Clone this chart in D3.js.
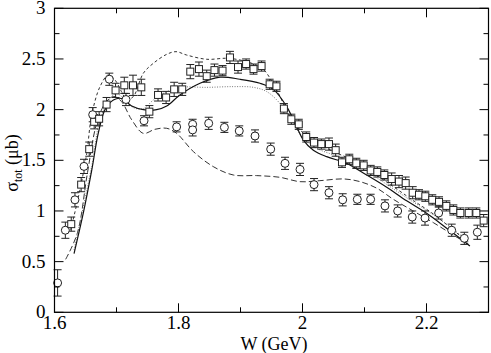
<!DOCTYPE html>
<html>
<head>
<meta charset="utf-8">
<script src="https://cdn.jsdelivr.net/npm/d3@7"></script>
<style>
  body { margin: 0; background: white; }
</style>
</head>
<body>
<div id="vis"></div>
<script>
var width = 491;
var height = 353;
var mLeft = 54.5, mRight = 488.5, mTop = 8.3, mBottom = 312.3;

// open circles: W (GeV), sigma (mub), error
var circW = [1.605, 1.6175, 1.633, 1.6476, 1.6616, 1.6884, 1.7153, 1.7444, 1.797, 1.8228, 1.8228, 1.8487, 1.874, 1.898, 1.9234, 1.9487, 1.9718, 1.996, 2.0186, 2.0427, 2.0648, 2.0884, 2.1099, 2.133, 2.1535, 2.177, 2.1976, 2.2196, 2.2406, 2.261, 2.282];
var circS = [0.29, 0.81, 1.11, 1.44, 1.95, 2.30, 2.10, 1.89, 1.83, 1.855, 1.80, 1.865, 1.825, 1.79, 1.74, 1.61, 1.47, 1.41, 1.26, 1.18, 1.11, 1.115, 1.115, 1.05, 1.00, 0.94, 0.93, 0.98, 0.81, 0.73, 0.79];
var circE = [0.13, 0.08, 0.07, 0.07, 0.07, 0.06, 0.06, 0.05, 0.05, 0.05, 0.06, 0.06, 0.05, 0.05, 0.06, 0.06, 0.06, 0.06, 0.06, 0.06, 0.06, 0.05, 0.05, 0.06, 0.06, 0.06, 0.07, 0.06, 0.06, 0.06, 0.07];

// open squares
var sqW = [1.627, 1.643, 1.656, 1.664, 1.672, 1.684, 1.6985, 1.7126, 1.7266, 1.74, 1.753, 1.767, 1.780, 1.793, 1.806, 1.819, 1.833, 1.8455, 1.858, 1.871, 1.883, 1.896, 1.909, 1.921, 1.934, 1.947, 1.958, 1.970, 1.982, 1.994, 2.006, 2.0186, 2.0304, 2.0427, 2.0535, 2.0637, 2.0755, 2.0868, 2.0987, 2.11, 2.1207, 2.132, 2.1438, 2.1556, 2.1664, 2.1777, 2.1879, 2.1981, 2.2093, 2.2202, 2.232, 2.2433, 2.2546, 2.2681, 2.2804, 2.2922];
var sqS = [0.87, 1.26, 1.61, 1.88, 1.91, 2.05, 2.19, 2.24, 2.24, 2.22, 1.98, 2.145, 2.12, 2.20, 2.20, 2.375, 2.40, 2.33, 2.39, 2.385, 2.515, 2.42, 2.45, 2.40, 2.43, 2.25, 2.23, 2.01, 1.905, 1.855, 1.73, 1.675, 1.66, 1.66, 1.60, 1.48, 1.51, 1.47, 1.45, 1.40, 1.385, 1.355, 1.315, 1.29, 1.275, 1.18, 1.16, 1.145, 1.11, 1.09, 1.05, 1.01, 0.98, 0.98, 0.98, 0.905];
var sqE = [0.07, 0.07, 0.07, 0.07, 0.07, 0.07, 0.07, 0.08, 0.1, 0.08, 0.06, 0.06, 0.06, 0.07, 0.06, 0.07, 0.07, 0.06, 0.06, 0.05, 0.06, 0.06, 0.05, 0.05, 0.05, 0.05, 0.05, 0.05, 0.05, 0.05, 0.05, 0.05, 0.05, 0.06, 0.06, 0.05, 0.05, 0.05, 0.05, 0.05, 0.05, 0.05, 0.06, 0.06, 0.06, 0.06, 0.05, 0.05, 0.05, 0.05, 0.05, 0.05, 0.05, 0.05, 0.05, 0.06];

// model curves
var solidW = [1.6315, 1.6465, 1.66, 1.6707, 1.6815, 1.695, 1.708, 1.7245, 1.7433, 1.7648, 1.781, 1.8024, 1.8347, 1.867, 1.899, 1.9315, 1.953, 1.9745, 1.9906, 2.0014, 2.0175, 2.039, 2.0712, 2.1035, 2.1358, 2.168, 2.2003, 2.2325, 2.27];
var solidS = [0.58, 0.98, 1.40, 1.77, 2.00, 2.095, 2.11, 2.036, 2.0, 2.0, 2.036, 2.145, 2.26, 2.32, 2.30, 2.26, 2.20, 2.03, 1.83, 1.70, 1.60, 1.536, 1.47, 1.355, 1.234, 1.10, 0.977, 0.83, 0.655];

var dotW = [1.6315, 1.66, 1.6734, 1.6895, 1.70, 1.7137, 1.727, 1.7433, 1.7594, 1.781, 1.8024, 1.8455, 1.8884, 1.9208, 1.9423, 1.9637, 1.985, 2.0014, 2.023, 2.05, 2.0766, 2.109, 2.1412, 2.1734, 2.2056, 2.2379, 2.2675];
var dotS = [0.615, 1.44, 1.90, 2.11, 2.16, 2.095, 2.02, 2.01, 2.095, 2.178, 2.22, 2.22, 2.227, 2.22, 2.178, 2.06, 1.865, 1.717, 1.618, 1.553, 1.487, 1.372, 1.24, 1.109, 0.984, 0.845, 0.697];

var dashW = [1.626, 1.641, 1.652, 1.66, 1.6734, 1.6868, 1.6976, 1.708, 1.7164, 1.727, 1.7433, 1.7594, 1.781, 1.796, 1.813, 1.8455, 1.8777, 1.899, 1.9207, 1.9368, 1.9583, 1.98, 1.9987, 2.023, 2.05, 2.0825, 2.115, 2.1465, 2.179, 2.211, 2.243, 2.2675];
var dashS = [0.81, 1.207, 1.569, 1.947, 2.227, 2.342, 2.293, 2.178, 2.10, 2.128, 2.359, 2.457, 2.546, 2.572, 2.539, 2.497, 2.507, 2.49, 2.451, 2.398, 2.194, 1.931, 1.783, 1.674, 1.586, 1.497, 1.372, 1.24, 1.102, 0.97, 0.8125, 0.6875];

var longW = [1.618, 1.6368, 1.653, 1.668, 1.6815, 1.695, 1.708, 1.7245, 1.7433, 1.762, 1.781, 1.797, 1.824, 1.856, 1.8884, 1.926, 1.9637, 1.996, 2.028, 2.066, 2.093, 2.12, 2.1465, 2.1777, 2.211, 2.243, 2.27];
var longS = [0.523, 0.78, 1.37, 1.865, 2.06, 2.13, 2.08, 1.90, 1.766, 1.806, 1.816, 1.766, 1.586, 1.438, 1.355, 1.349, 1.332, 1.289, 1.299, 1.316, 1.289, 1.224, 1.115, 1.003, 0.885, 0.763, 0.664];

var xTicks = [1.6, 1.8, 2, 2.2];
var yTicks = [0, 0.5, 1, 1.5, 2, 2.5, 3];

var svg = d3.select("#vis").append("svg")
  .attr("width", width)
  .attr("height", height)
  .attr("font-family", "'Liberation Serif', 'DejaVu Serif', serif");

var x = d3.scaleLinear().domain([1.6, 2.3]).range([mLeft, mRight]);
var y = d3.scaleLinear().domain([0, 3]).range([mBottom, mTop]);

function zip(a, b, e) { return a.map((v, i) => ({w: v, s: b[i], e: e ? e[i] : 0})); }

// curves
var line = d3.line().x(d => x(d.w)).y(d => y(d.s)).curve(d3.curveCatmullRom.alpha(0.5));
var curves = [
  {d: zip(longW, longS), dash: "6,3", color: "#333", w: 1},
  {d: zip(dashW, dashS), dash: "3,2.5", color: "#333", w: 1},
  {d: zip(dotW, dotS), dash: "1,1.5", color: "#777", w: 1},
  {d: zip(solidW, solidS), dash: null, color: "#111", w: 1.2}
];
svg.append("g").selectAll("path")
  .data(curves)
  .join("path")
  .attr("d", c => line(c.d))
  .attr("fill", "none")
  .attr("stroke", c => c.color)
  .attr("stroke-width", c => c.w)
  .attr("stroke-dasharray", c => c.dash);

// error bars
function errorBars(data) {
  var g = svg.append("g").attr("stroke", "#222").attr("stroke-width", 1);
  g.selectAll("line.v").data(data).join("line")
    .attr("x1", d => x(d.w)).attr("x2", d => x(d.w))
    .attr("y1", d => y(d.s - d.e)).attr("y2", d => y(d.s + d.e));
  g.selectAll("line.t").data(data).join("line")
    .attr("x1", d => x(d.w) - 4).attr("x2", d => x(d.w) + 4)
    .attr("y1", d => y(d.s + d.e)).attr("y2", d => y(d.s + d.e));
  g.selectAll("line.b").data(data).join("line")
    .attr("x1", d => x(d.w) - 4).attr("x2", d => x(d.w) + 4)
    .attr("y1", d => y(d.s - d.e)).attr("y2", d => y(d.s - d.e));
}
var circles = zip(circW, circS, circE);
var squares = zip(sqW, sqS, sqE);
errorBars(circles);
errorBars(squares);

svg.append("g").selectAll("circle").data(circles).join("circle")
  .attr("cx", d => x(d.w)).attr("cy", d => y(d.s)).attr("r", 4)
  .attr("fill", "white").attr("stroke", "#222").attr("stroke-width", 1);

svg.append("g").selectAll("rect").data(squares).join("rect")
  .attr("x", d => x(d.w) - 3.5).attr("y", d => y(d.s) - 3.5)
  .attr("width", 7).attr("height", 7)
  .attr("fill", "white").attr("stroke", "#222").attr("stroke-width", 1);

// frame and ticks (inward, all four sides)
svg.append("rect")
  .attr("x", mLeft).attr("y", mTop)
  .attr("width", mRight - mLeft).attr("height", mBottom - mTop)
  .attr("fill", "none").attr("stroke", "black").attr("stroke-width", 1.2);

var tg = svg.append("g").attr("stroke", "black").attr("stroke-width", 1);
var xMinor = [1.7, 1.9, 2.1];
var yMinor = [0.25, 0.75, 1.25, 1.75, 2.25, 2.75];
function xt(vals, len) {
  vals.forEach(v => {
    tg.append("line").attr("x1", x(v)).attr("x2", x(v)).attr("y1", mBottom).attr("y2", mBottom - len);
    tg.append("line").attr("x1", x(v)).attr("x2", x(v)).attr("y1", mTop).attr("y2", mTop + len);
  });
}
function yt(vals, len) {
  vals.forEach(v => {
    tg.append("line").attr("y1", y(v)).attr("y2", y(v)).attr("x1", mLeft).attr("x2", mLeft + len);
    tg.append("line").attr("y1", y(v)).attr("y2", y(v)).attr("x1", mRight).attr("x2", mRight - len);
  });
}
xt(xTicks, 9); xt(xMinor, 5);
yt(yTicks, 9); yt(yMinor, 5);

// tick labels
svg.append("g").selectAll("text").data(xTicks).join("text")
  .attr("x", d => x(d)).attr("y", mBottom + 17)
  .attr("text-anchor", "middle")
  .attr("font-size", 19)
  .text(d => d3.format("")(d));

svg.append("g").selectAll("text").data(yTicks).join("text")
  .attr("x", mLeft - 9).attr("y", d => y(d) + 6)
  .attr("text-anchor", "end")
  .attr("font-size", 19)
  .text(d => d3.format("")(d));

// axis titles
svg.append("text")
  .attr("x", 274).attr("y", 350)
  .attr("text-anchor", "middle")
  .attr("font-size", 18)
  .text("W (GeV)");

var yl = svg.append("text")
  .attr("transform", "translate(18," + 163 + ") rotate(-90)")
  .attr("text-anchor", "middle")
  .attr("font-size", 18);
yl.append("tspan").text("σ");
yl.append("tspan").attr("font-size", 12).attr("dy", 4).text("tot");
yl.append("tspan").attr("dy", -4).text(" (μb)");
</script>
</body>
</html>
